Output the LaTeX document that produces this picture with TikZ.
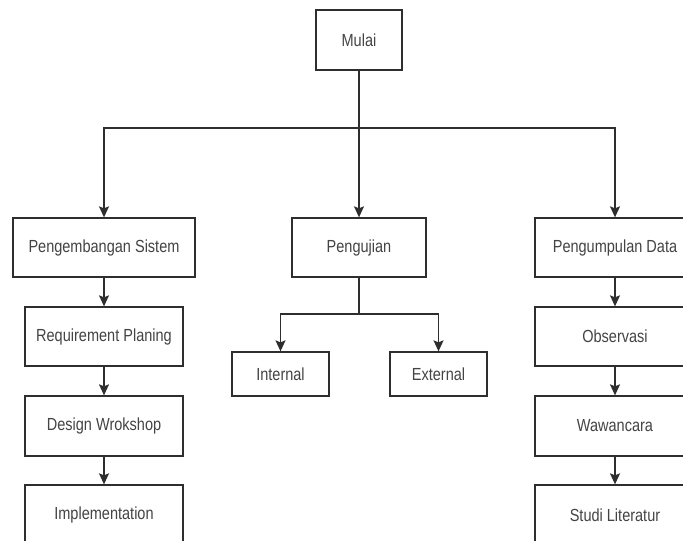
\documentclass[tikz,border=0pt]{standalone}
\usepackage{fontspec}
\setmainfont{Liberation Sans}[FakeStretch=0.83]
\usetikzlibrary{arrows.meta}

\definecolor{garis}{HTML}{2E2E2E}
\definecolor{teks}{HTML}{444444}

\begin{document}
\begin{tikzpicture}[x=1pt, y=-1pt,
    kotak/.style={draw=garis, line width=1.3pt, fill=white, text=teks,
        font=\fontsize{17.5}{19}\selectfont, inner sep=0pt},
    panah/.style={draw=garis, line width=1.3pt, -{Stealth[length=11pt,width=10pt,inset=2pt]}},
    garisbiasa/.style={draw=garis, line width=1.3pt}]
    \useasboundingbox (0,0) rectangle (683,541);

    % Kotak utama
    \node[kotak, minimum width=86pt, minimum height=60pt] (mulai) at (359,40) {Mulai};

    % Tiga cabang
    \node[kotak, minimum width=182pt, minimum height=59pt] (pengembangan) at (104,247.5) {Pengembangan Sistem};
    \node[kotak, minimum width=134pt, minimum height=59pt] (pengujian) at (359,247.5) {Pengujian};
    \node[kotak, minimum width=160pt, minimum height=59pt] (pengumpulan) at (615,247.5) {Pengumpulan Data};

    % Kolom kiri
    \node[kotak, minimum width=158pt, minimum height=59pt] (requirement) at (104,336.5) {Requirement Planing};
    \node[kotak, minimum width=158pt, minimum height=60pt] (design) at (104,426) {Design Wrokshop};
    \node[kotak, minimum width=158pt, minimum height=60pt] (implementation) at (104,515) {Implementation};

    % Kolom tengah
    \node[kotak, minimum width=97pt, minimum height=44pt] (internal) at (280.5,374) {Internal};
    \node[kotak, minimum width=97pt, minimum height=44pt] (external) at (438.5,374) {External};

    % Kolom kanan
    \node[kotak, minimum width=160pt, minimum height=59pt] (observasi) at (615,336.5) {Observasi};
    \node[kotak, minimum width=160pt, minimum height=60pt] (wawancara) at (615,426) {Wawancara};
    \node[kotak, minimum width=160pt, minimum height=60pt] (studi) at (615,515) {Studi Literatur};

    % Titik percabangan
    \coordinate (cabang) at (359,128);
    \coordinate (cabanguji) at (359,314);

    % Garis dari Mulai
    \draw[garisbiasa] (mulai.south) -- (cabang);
    \draw[panah] (cabang) -| (pengembangan.north);
    \draw[panah] (cabang) -- (pengujian.north);
    \draw[panah] (cabang) -| (pengumpulan.north);

    % Garis dari Pengujian
    \draw[garisbiasa] (pengujian.south) -- (cabanguji);
    \draw[panah] (cabanguji) -| (internal.north);
    \draw[panah] (cabanguji) -| (external.north);

    % Panah kolom kiri dan kanan
    \draw[panah] (pengembangan.south) -- (requirement.north);
    \draw[panah] (requirement.south) -- (design.north);
    \draw[panah] (design.south) -- (implementation.north);
    \draw[panah] (pengumpulan.south) -- (observasi.north);
    \draw[panah] (observasi.south) -- (wawancara.north);
    \draw[panah] (wawancara.south) -- (studi.north);
\end{tikzpicture}
\end{document}
